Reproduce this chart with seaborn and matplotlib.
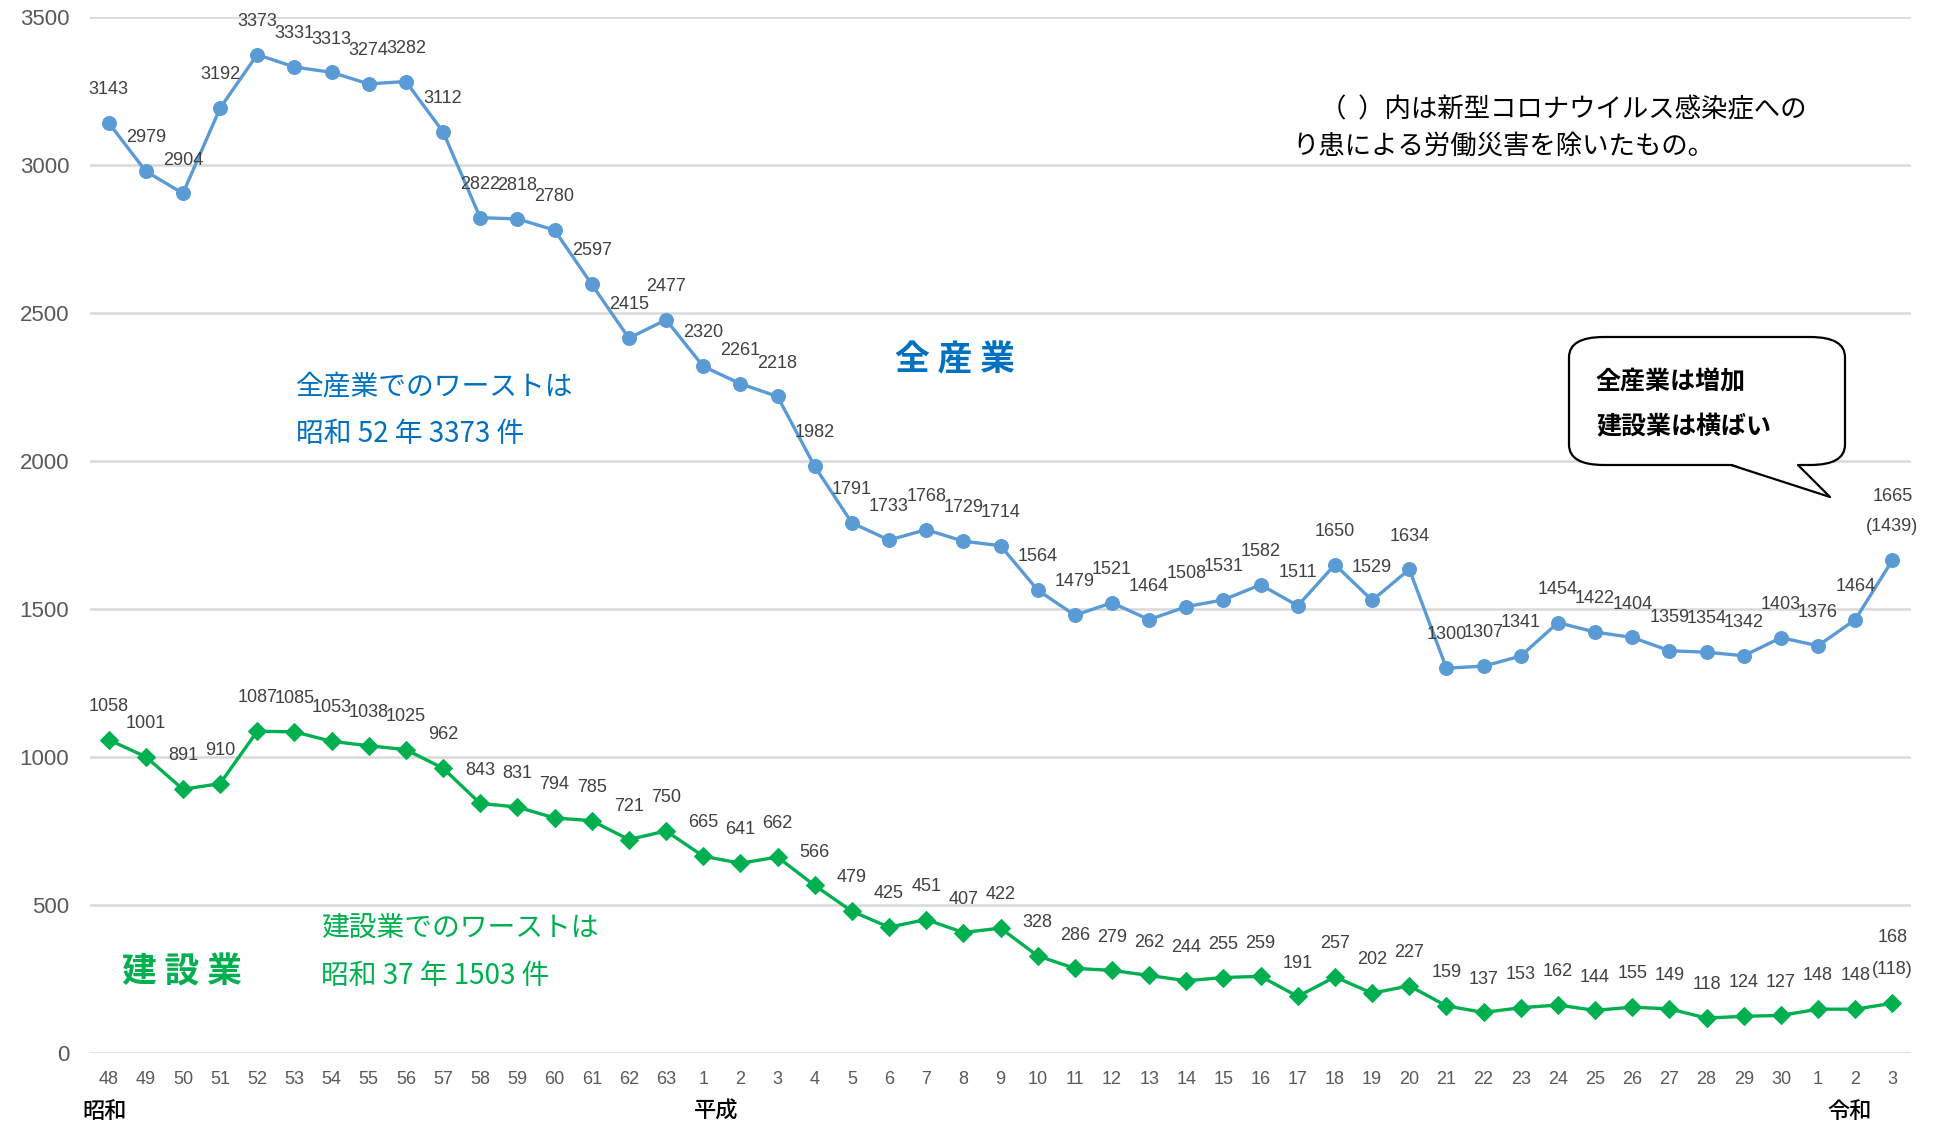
"""
建設業・全産業 死亡災害推移グラフ
"""

import numpy as np
import pandas as pd
import matplotlib.pyplot as plt
import seaborn as sns
from matplotlib.patches import FancyBboxPatch, Polygon
from matplotlib.lines import Line2D
from matplotlib.transforms import blended_transform_factory

# --- data ---
years = ['48', '49', '50', '51', '52', '53', '54', '55', '56', '57', '58', '59', '60', '61', '62', '63',
         '1', '2', '3', '4', '5', '6', '7', '8', '9', '10', '11', '12', '13', '14', '15', '16', '17',
         '18', '19', '20', '21', '22', '23', '24', '25', '26', '27', '28', '29', '30',
         '1', '2', '3']
all_industry = [3143, 2979, 2904, 3192, 3373, 3331, 3313, 3274, 3282, 3112, 2822, 2818, 2780, 2597,
                2415, 2477, 2320, 2261, 2218, 1982, 1791, 1733, 1768, 1729, 1714, 1564, 1479, 1521,
                1464, 1508, 1531, 1582, 1511, 1650, 1529, 1634, 1300, 1307, 1341, 1454, 1422, 1404,
                1359, 1354, 1342, 1403, 1376, 1464, 1665]
construction = [1058, 1001, 891, 910, 1087, 1085, 1053, 1038, 1025, 962, 843, 831, 794, 785, 721, 750,
                665, 641, 662, 566, 479, 425, 451, 407, 422, 328, 286, 279, 262, 244, 255, 259, 191,
                257, 202, 227, 159, 137, 153, 162, 144, 155, 149, 118, 124, 127, 148, 148, 168]
all_excl_covid = 1439
constr_excl_covid = 118
eras = ['昭和', '平成', '令和']
era_pos = [0, 16, 46]

BLUE = '#5B9BD5'
GREEN = '#00B050'
TEXT_BLUE = '#0070C0'
LABEL = '#404040'

sns.set_theme(style='white')
plt.rcParams['font.family'] = ['Liberation Sans', 'Noto Sans CJK JP', 'DejaVu Sans']
JP = ['Noto Sans CJK JP', 'DejaVu Sans']

df = pd.DataFrame({'pos': np.arange(len(years)), 'all': all_industry, 'con': construction})

W, H = 1935, 1126
fig, ax = plt.subplots(figsize=(W / 100, H / 100), dpi=100)
fig.subplots_adjust(left=90 / W, right=1911 / W, top=1 - 17 / H, bottom=1 - 1053 / H)

sns.lineplot(data=df, x='pos', y='all', ax=ax, color=BLUE, linewidth=2.4,
             marker='o', markersize=10, markeredgecolor=BLUE)
sns.lineplot(data=df, x='pos', y='con', ax=ax, color=GREEN, linewidth=2.4,
             marker='D', markersize=9, markeredgecolor=GREEN)

ax.set_xlim(-0.5, len(years) - 0.5)
ax.set_ylim(0, 3500)
ax.set_yticks(range(0, 3501, 500))
ax.set_xticks(df['pos'])
ax.set_xticklabels(years)
ax.tick_params(axis='x', length=0, pad=13, labelsize=13, labelcolor='#595959')
ax.tick_params(axis='y', length=0, pad=15, labelsize=16, labelcolor='#595959')
ax.set_xlabel('')
ax.set_ylabel('')
ax.grid(axis='y', color='#D9D9D9', linewidth=1.8)
ax.set_axisbelow(True)
for s in ax.spines.values():
    s.set_visible(False)

# data labels
n = len(years)
for i in range(n):
    ax.annotate(str(all_industry[i]), (i, all_industry[i]), xytext=(0, 24),
                textcoords='offset points', ha='center', va='center', fontsize=13, color=LABEL)
    ax.annotate(str(construction[i]), (i, construction[i]), xytext=(0, 24),
                textcoords='offset points', ha='center', va='center', fontsize=13, color=LABEL)
# latest year: figure including / excluding COVID-19
ax.texts[-2].set_text(f'({all_excl_covid})')
ax.texts[-1].set_text(f'({constr_excl_covid})')
ax.annotate(str(all_industry[-1]), (n - 1, all_industry[-1]), xytext=(0, 46),
            textcoords='offset points', ha='center', va='center', fontsize=13, color=LABEL)
ax.annotate(str(construction[-1]), (n - 1, construction[-1]), xytext=(0, 47),
            textcoords='offset points', ha='center', va='center', fontsize=13, color=LABEL)

# era labels under the axis
tr = blended_transform_factory(ax.transData, ax.transAxes)
for lab, p, dx in zip(eras, era_pos, [-0.1, 0.35, 0.85]):
    ax.text(p + dx, -0.056, lab, transform=tr, ha='center', va='center',
            fontsize=16, family=JP, fontweight='medium', color='black')


def fx(px):
    return px / W


def fy(py):
    return 1 - py / H


# annotations
fig.text(fx(296), fy(386), '全産業でのワーストは', family=JP, fontsize=20, color=TEXT_BLUE, va='center')
fig.text(fx(296), fy(434), '昭和 52 年 3373 件', family=JP, fontsize=20, color=TEXT_BLUE, va='center')
fig.text(fx(955), fy(360), '全 産 業', family=JP, fontsize=25, fontweight='bold',
         color=TEXT_BLUE, ha='center', va='center')
fig.text(fx(321), fy(928), '建設業でのワーストは', family=JP, fontsize=20, color=GREEN, va='center')
fig.text(fx(321), fy(976), '昭和 37 年 1503 件', family=JP, fontsize=20, color=GREEN, va='center')
fig.text(fx(182), fy(972), '建 設 業', family=JP, fontsize=25, fontweight='bold',
         color=GREEN, ha='center', va='center')
fig.text(fx(1320), fy(110), '（  ）内は新型コロナウイルス感染症への', family=JP, fontsize=19,
         color='black', va='center')
fig.text(fx(1292), fy(146), 'り患による労働災害を除いたもの。', family=JP, fontsize=19,
         color='black', va='center')

# callout box
bx0, by0, bx1, by1 = 1569, 337, 1845, 465
box = FancyBboxPatch((fx(bx0), fy(by1)), fx(bx1 - bx0), (by1 - by0) / H,
                     boxstyle='round,pad=0,rounding_size=0.018', transform=fig.transFigure,
                     facecolor='white', edgecolor='black', linewidth=1.6, zorder=5)
fig.add_artist(box)
tail = [(1731, by1), (1830, 497), (1798, by1)]
fig.add_artist(Polygon([(fx(x), fy(y)) for x, y in [(1729, by1 - 2)] + tail[1:] + [(1800, by1 - 2)]],
                       closed=True, transform=fig.transFigure, facecolor='white',
                       edgecolor='none', zorder=6))
fig.add_artist(Line2D([fx(x) for x, _ in tail], [fy(y) for _, y in tail],
                      transform=fig.transFigure, color='black', linewidth=1.6, zorder=7))
fig.text(fx(1596), fy(382), '全産業は増加', family=JP, fontsize=18, fontweight='bold',
         color='black', va='center', zorder=8)
fig.text(fx(1596), fy(427), '建設業は横ばい', family=JP, fontsize=18, fontweight='bold',
         color='black', va='center', zorder=8)

fig.savefig('out.png', dpi=100)
